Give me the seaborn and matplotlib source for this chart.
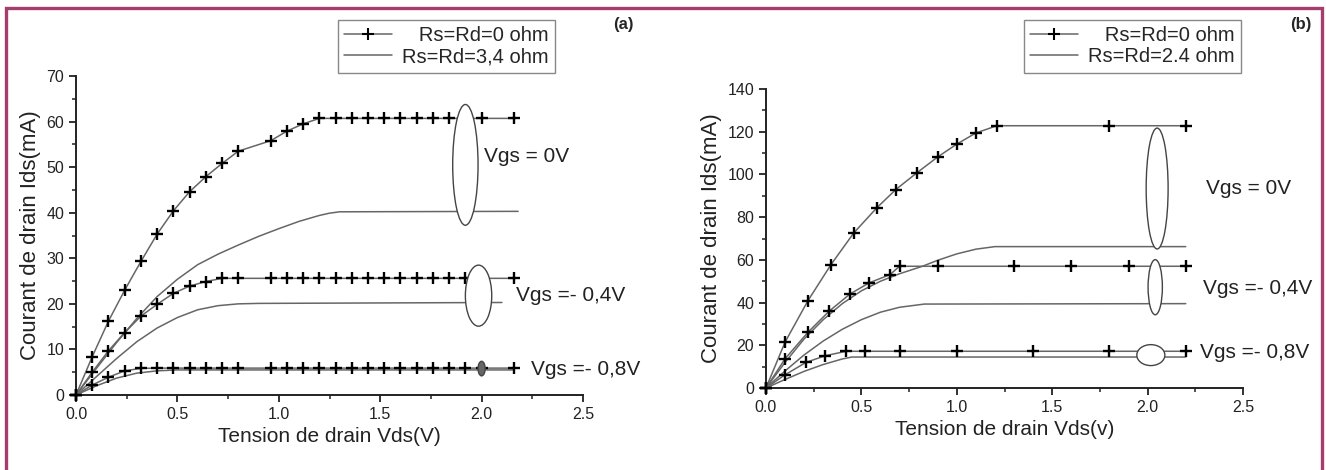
import numpy as np
import pandas as pd
import seaborn as sns
import matplotlib
matplotlib.use('Agg')
import matplotlib.pyplot as plt
from matplotlib.patches import Ellipse, Rectangle
from matplotlib.lines import Line2D
from matplotlib.ticker import MultipleLocator

# ---- panel (a) : Rs=Rd=0 ohm (crosses)
xa_0 = [0, 0.08, 0.16, 0.24, 0.32, 0.40, 0.48, 0.56, 0.64, 0.72, 0.80, 0.96, 1.04,
        1.12, 1.20, 1.28, 1.36, 1.44, 1.52, 1.60, 1.68, 1.76, 1.84, 1.92, 2.00, 2.16]
ia_0_vgs0 = [0, 8.4, 16.2, 23.0, 29.3, 35.3, 40.4, 44.6, 47.9, 50.8, 53.5, 55.8, 57.9,
             59.5, 60.7, 60.7, 60.7, 60.7, 60.7, 60.7, 60.7, 60.7, 60.7, 60.7, 60.7, 60.7]
ia_0_vgs04 = [0, 5.0, 9.7, 13.7, 17.3, 19.9, 22.3, 23.9, 24.9, 25.6, 25.6, 25.6, 25.6,
              25.6, 25.6, 25.6, 25.6, 25.6, 25.6, 25.6, 25.6, 25.6, 25.6, 25.6, 25.6, 25.6]
ia_0_vgs08 = [0, 2.2, 3.9, 5.3, 5.85, 5.9, 5.9, 5.9, 5.9, 5.9, 5.9, 5.9, 5.9,
              5.9, 5.9, 5.9, 5.9, 5.9, 5.9, 5.9, 5.9, 5.9, 5.9, 5.9, 5.9, 5.9]

# ---- panel (a) : Rs=Rd=3,4 ohm (solid)
xa_r_vgs0 = [0, 0.1, 0.2, 0.3, 0.4, 0.5, 0.6, 0.7, 0.8, 0.9, 1.0, 1.1, 1.2, 1.25, 1.3, 2.18]
ia_r_vgs0 = [0, 5.8, 11.5, 16.8, 21.6, 25.4, 28.6, 30.9, 32.9, 34.8, 36.5, 38.1, 39.4, 39.9, 40.2, 40.3]
xa_r_vgs04 = [0, 0.1, 0.2, 0.3, 0.4, 0.5, 0.6, 0.7, 0.8, 0.9, 2.1]
ia_r_vgs04 = [0, 4.0, 8.0, 11.7, 14.7, 17.0, 18.7, 19.6, 20.0, 20.1, 20.3]
xa_r_vgs08 = [0, 0.1, 0.2, 0.3, 0.4, 0.5, 2.16]
ia_r_vgs08 = [0, 2.0, 3.7, 4.8, 5.3, 5.5, 5.5]

# ---- panel (b) : Rs=Rd=0 ohm (crosses)
xb_0_vgs0 = [0, 0.1, 0.22, 0.34, 0.46, 0.58, 0.68, 0.79, 0.9, 1.0, 1.1, 1.21, 1.8, 2.2]
ib_0_vgs0 = [0, 21.5, 40.9, 57.7, 72.6, 84.3, 92.9, 100.7, 108.2, 114.2, 119.4, 122.8, 122.8, 122.8]
xb_0_vgs04 = [0, 0.1, 0.22, 0.33, 0.44, 0.54, 0.65, 0.7, 0.9, 1.3, 1.6, 1.9, 2.2]
ib_0_vgs04 = [0, 13.7, 26.1, 35.9, 44.0, 49.2, 53.1, 57.0, 57.0, 57.0, 57.0, 57.0, 57.0]
xb_0_vgs08 = [0, 0.1, 0.21, 0.31, 0.42, 0.52, 0.7, 1.0, 1.4, 1.8, 2.2]
ib_0_vgs08 = [0, 6.2, 12.0, 15.1, 17.2, 17.2, 17.2, 17.2, 17.2, 17.2, 17.2]

# ---- panel (b) : Rs=Rd=2.4 ohm (solid)
xb_r_vgs0 = [0, 0.1, 0.2, 0.3, 0.4, 0.5, 0.6, 0.7, 0.82, 0.9, 1.0, 1.1, 1.2, 2.2]
ib_r_vgs0 = [0, 12, 23, 32, 39.5, 45.5, 50, 53.5, 57, 59.8, 62.8, 65.0, 66.2, 66.2]
xb_r_vgs04 = [0, 0.1, 0.2, 0.3, 0.4, 0.5, 0.6, 0.7, 0.83, 2.2]
ib_r_vgs04 = [0, 8, 15.5, 22, 27.5, 32, 35.5, 37.8, 39.3, 39.5]
xb_r_vgs08 = [0, 0.1, 0.2, 0.3, 0.4, 0.45, 2.2]
ib_r_vgs08 = [0, 4, 7.8, 11, 13.6, 14.5, 14.5]

labels_a = ["   Rs=Rd=0 ohm", "Rs=Rd=3,4 ohm"]
labels_b = ["   Rs=Rd=0 ohm", "Rs=Rd=2.4 ohm"]
vgs_a = ["Vgs = 0V", "Vgs =- 0,4V", "Vgs =- 0,8V"]
vgs_b = ["Vgs = 0V", "Vgs =- 0,4V", "Vgs =- 0,8V"]

sns.set_style("ticks")
plt.rcParams['font.family'] = ['Liberation Sans', 'DejaVu Sans']

line_col = '#666666'
W, H = 1326, 470
fig = plt.figure(figsize=(W / 100, H / 100), dpi=100)
fig.patch.set_facecolor('white')

ax1 = fig.add_axes([76 / W, 1 - 395 / H, 507 / W, 319 / H])
ax2 = fig.add_axes([766 / W, 1 - 388 / H, 477 / W, 299 / H])


def cross_curve(ax, x, y):
    sns.lineplot(x=x, y=y, ax=ax, color=line_col, lw=1.1, marker='+', markersize=9,
                 markeredgecolor='black', markeredgewidth=1.7, estimator=None,
                 sort=False, clip_on=False, zorder=3)


def plain_curve(ax, x, y):
    sns.lineplot(x=x, y=y, ax=ax, color=line_col, lw=1.1, estimator=None,
                 sort=False, clip_on=False, zorder=2)


cross_curve(ax1, xa_0, ia_0_vgs0)
cross_curve(ax1, xa_0, ia_0_vgs04)
cross_curve(ax1, xa_0, ia_0_vgs08)
plain_curve(ax1, xa_r_vgs0, ia_r_vgs0)
plain_curve(ax1, xa_r_vgs04, ia_r_vgs04)
plain_curve(ax1, xa_r_vgs08, ia_r_vgs08)

cross_curve(ax2, xb_0_vgs0, ib_0_vgs0)
cross_curve(ax2, xb_0_vgs04, ib_0_vgs04)
cross_curve(ax2, xb_0_vgs08, ib_0_vgs08)
plain_curve(ax2, xb_r_vgs0, ib_r_vgs0)
plain_curve(ax2, xb_r_vgs04, ib_r_vgs04)
plain_curve(ax2, xb_r_vgs08, ib_r_vgs08)

# ellipses grouping the curves
for ax, ells in [(ax1, [(1.92, 50.5, 0.125, 26.5, 'white'),
                        (1.985, 21.8, 0.13, 13.4, 'white'),
                        (2.0, 5.8, 0.035, 3.2, '#666666')]),
                 (ax2, [(2.05, 93.4, 0.115, 56.6, 'white'),
                        (2.04, 47.2, 0.075, 25.8, 'white'),
                        (2.017, 15.4, 0.147, 9.8, 'white')])]:
    for cx, cy, w, h, fc in ells:
        ax.add_patch(Ellipse((cx, cy), w, h, facecolor=fc, edgecolor='#444444',
                             lw=1.0, zorder=5, clip_on=False))

for t, (tx, ty) in zip(vgs_a, [(2.01, 52.3), (2.17, 21.9), (2.245, 5.7)]):
    ax1.text(tx, ty, t, fontsize=15, va='center', ha='left', color='#222222')
for t, (tx, ty) in zip(vgs_b, [(2.306, 93.6), (2.29, 46.4), (2.277, 16.7)]):
    ax2.text(tx, ty, t, fontsize=15, va='center', ha='left', color='#222222')

for ax, ymax, ymaj, ymin, xlab in [(ax1, 70, 10, 5, "Tension de drain Vds(V)"),
                                   (ax2, 140, 20, 10, "Tension de drain Vds(v)")]:
    ax.set_xlim(0, 2.5)
    ax.set_ylim(0, ymax)
    ax.xaxis.set_major_locator(MultipleLocator(0.5))
    ax.xaxis.set_minor_locator(MultipleLocator(0.25))
    ax.yaxis.set_major_locator(MultipleLocator(ymaj))
    ax.yaxis.set_minor_locator(MultipleLocator(ymin))
    ax.xaxis.set_major_formatter(matplotlib.ticker.FormatStrFormatter('%.1f'))
    ax.tick_params(which='major', length=5, width=1.3, labelsize=11.5, colors='#222222')
    ax.tick_params(which='minor', length=3, width=1.1, colors='#222222')
    sns.despine(ax=ax)
    for s in ['left', 'bottom']:
        ax.spines[s].set_linewidth(1.4)
        ax.spines[s].set_color('#222222')
    ax.set_xlabel(xlab, fontsize=15, color='#222222', labelpad=4)
    ax.set_ylabel("Courant de drain Ids(mA)", fontsize=16, color='#222222', labelpad=4)
    ax.patch.set_alpha(0)

handles = [Line2D([], [], color=line_col, lw=1.1, marker='+', markersize=8,
                  markeredgecolor='black', markeredgewidth=1.5),
           Line2D([], [], color=line_col, lw=1.1)]
for ax, labs, x0 in [(ax1, labels_a, 338), (ax2, labels_b, 1024)]:
    leg = ax.legend(handles, labs, loc='upper left', bbox_to_anchor=(x0 / W, 1 - 20 / H),
                    bbox_transform=fig.transFigure, fontsize=14.5, frameon=True,
                    fancybox=False, edgecolor='#888888', framealpha=1,
                    handlelength=2.4, handletextpad=0.5, labelspacing=0.12,
                    borderpad=0.3, borderaxespad=0)
    leg.get_frame().set_linewidth(1.0)

fig.text(623 / W, 1 - 25 / H, "(a)", fontsize=12, fontweight='bold', ha='center', va='center')
fig.text(1301 / W, 1 - 25 / H, "(b)", fontsize=12, fontweight='bold', ha='center', va='center')

fig.patches.append(Rectangle((6 / W, -0.05), 1316 / W, 1.05 - 8 / H, transform=fig.transFigure,
                             fill=False, edgecolor='#a53d6f', lw=2.4, zorder=10))

fig.savefig("out.png", dpi=100, facecolor='white')
